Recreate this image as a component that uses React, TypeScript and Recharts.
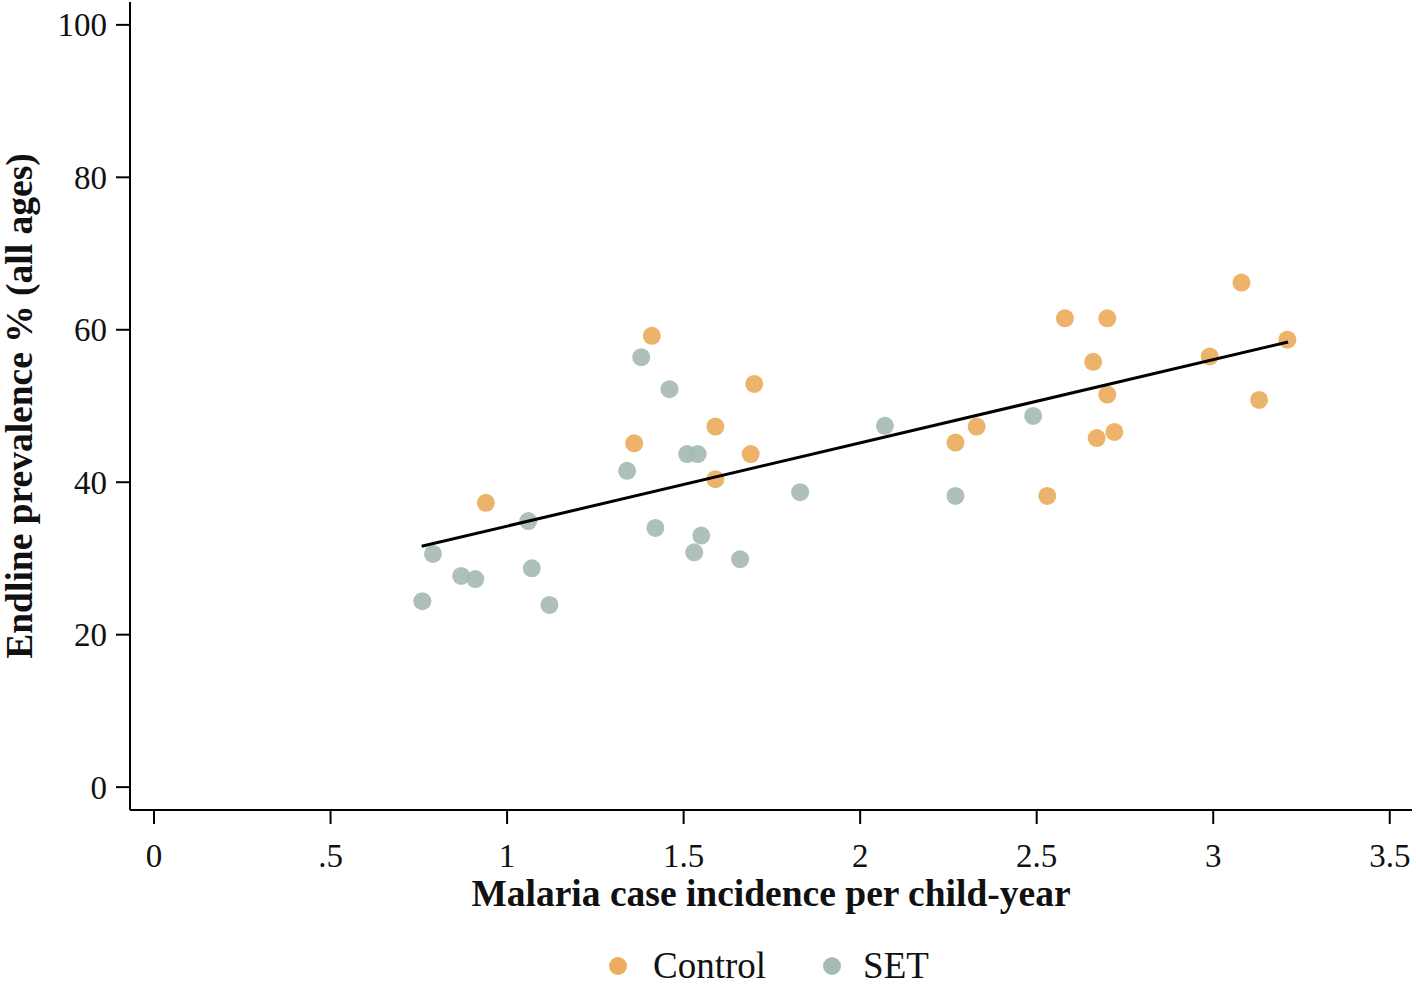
import React from 'react';
import {
  ScatterChart,
  Scatter,
  XAxis,
  YAxis,
  Legend,
} from 'recharts';

// values
const controlX = [1.41, 1.70, 1.59, 1.36, 1.69, 1.59, 0.94, 2.58, 2.70, 3.08, 3.21, 2.99, 2.66, 2.70, 3.13, 2.33, 2.27, 2.72, 2.67, 2.53];
const controlY = [59.2, 52.9, 47.3, 45.1, 43.7, 40.4, 37.3, 61.5, 61.5, 66.2, 58.7, 56.5, 55.8, 51.5, 50.8, 47.3, 45.2, 46.6, 45.8, 38.2];

const setX = [1.38, 1.46, 1.51, 1.54, 1.34, 1.83, 1.06, 1.42, 1.55, 0.79, 1.53, 1.66, 0.87, 0.91, 1.07, 0.76, 1.12, 2.07, 2.49, 2.27];
const setY = [56.4, 52.2, 43.7, 43.7, 41.5, 38.7, 34.9, 34.0, 33.0, 30.6, 30.8, 29.9, 27.7, 27.3, 28.7, 24.4, 23.9, 47.4, 48.7, 38.2];

// fitted line end points
const fitX = [0.758, 3.212];
const fitY = [31.6, 58.4];

const xTicks = [0, 0.5, 1, 1.5, 2, 2.5, 3, 3.5];
const xTickLabels = ['0', '.5', '1', '1.5', '2', '2.5', '3', '3.5'];
const yTicks = [0, 20, 40, 60, 80, 100];

const controlData = controlX.map((x, i) => ({ x, y: controlY[i] }));
const setData = setX.map((x, i) => ({ x, y: setY[i] }));
const fitData = fitX.map((x, i) => ({ x, y: fitY[i] }));

const ORANGE = '#EDAD5E';
const GREY = '#A6BCB3';
const FONT = '"Liberation Serif", "Times New Roman", serif';

const dot = (color: string) => (props: any) => (
  <circle cx={props.cx} cy={props.cy} r={9} fill={color} fillOpacity={0.92} />
);

const XTick = (props: any) => {
  const { x, y, payload } = props;
  const idx = xTicks.indexOf(payload.value);
  return (
    <text x={x} y={y} dy="0.71em" textAnchor="middle" fontFamily={FONT} fontSize={33} fill="#111">
      {idx >= 0 ? xTickLabels[idx] : payload.value}
    </text>
  );
};

const YTick = (props: any) => {
  const { x, y, payload } = props;
  return (
    <text x={x} y={y} dy="0.35em" textAnchor="end" fontFamily={FONT} fontSize={33} fill="#111">
      {payload.value}
    </text>
  );
};

const LegendBox = () => (
  <div
    style={{
      height: 60,
      boxSizing: 'border-box',
      paddingTop: 24,
      paddingLeft: 609,
      display: 'flex',
      alignItems: 'center',
      fontFamily: FONT,
      fontSize: 37,
      lineHeight: '30px',
      color: '#111',
    }}
  >
    <span style={{ width: 18, height: 18, borderRadius: 9, background: ORANGE, display: 'inline-block' }} />
    <span style={{ marginLeft: 26 }}>Control</span>
    <span style={{ width: 18, height: 18, borderRadius: 9, background: GREY, display: 'inline-block', marginLeft: 57 }} />
    <span style={{ marginLeft: 22 }}>SET</span>
  </div>
);

export default function App() {
  return (
    <div style={{ position: 'absolute', left: 0, top: 0, width: 1416, height: 984, background: '#fff' }}>
      <ScatterChart width={1416} height={984} margin={{ top: 2, right: 4, left: 0, bottom: 0 }}>
        <XAxis
          type="number"
          dataKey="x"
          domain={[-0.068, 3.563]}
          ticks={xTicks}
          allowDataOverflow
          height={114}
          axisLine={{ stroke: '#000', strokeWidth: 2 }}
          tickLine={{ stroke: '#000', strokeWidth: 2 }}
          tickSize={14}
          tickMargin={20}
          tick={<XTick />}
          label={{
            content: ({ viewBox }: any) => (
              <text
                x={viewBox.x + viewBox.width / 2}
                y={viewBox.y + 96}
                textAnchor="middle"
                fontFamily={FONT}
                fontSize={37.5}
                fontWeight="bold"
                fill="#111"
              >
                Malaria case incidence per child-year
              </text>
            ),
          }}
        />
        <YAxis
          type="number"
          dataKey="y"
          domain={[-3, 103]}
          ticks={yTicks}
          allowDataOverflow
          width={130}
          axisLine={{ stroke: '#000', strokeWidth: 2 }}
          tickLine={{ stroke: '#000', strokeWidth: 2 }}
          tickSize={14}
          tickMargin={9}
          tick={<YTick />}
          label={{
            content: ({ viewBox }: any) => {
              const cy = viewBox.y + viewBox.height / 2;
              return (
                <text
                  x={32}
                  y={cy}
                  transform={`rotate(-90, 32, ${cy})`}
                  textAnchor="middle"
                  fontFamily={FONT}
                  fontSize={37.5}
                  fontWeight="bold"
                  fill="#111"
                >
                  Endline prevalence % (all ages)
                </text>
              );
            },
          }}
        />
        <Legend verticalAlign="bottom" height={60} content={<LegendBox />} />
        <Scatter name="Control" data={controlData} fill={ORANGE} shape={dot(ORANGE)} isAnimationActive={false} />
        <Scatter name="SET" data={setData} fill={GREY} shape={dot(GREY)} isAnimationActive={false} />
        <Scatter
          name="Fit"
          data={fitData}
          line={{ stroke: '#000', strokeWidth: 3 }}
          shape={() => <g />}
          legendType="none"
          isAnimationActive={false}
        />
      </ScatterChart>
    </div>
  );
}
